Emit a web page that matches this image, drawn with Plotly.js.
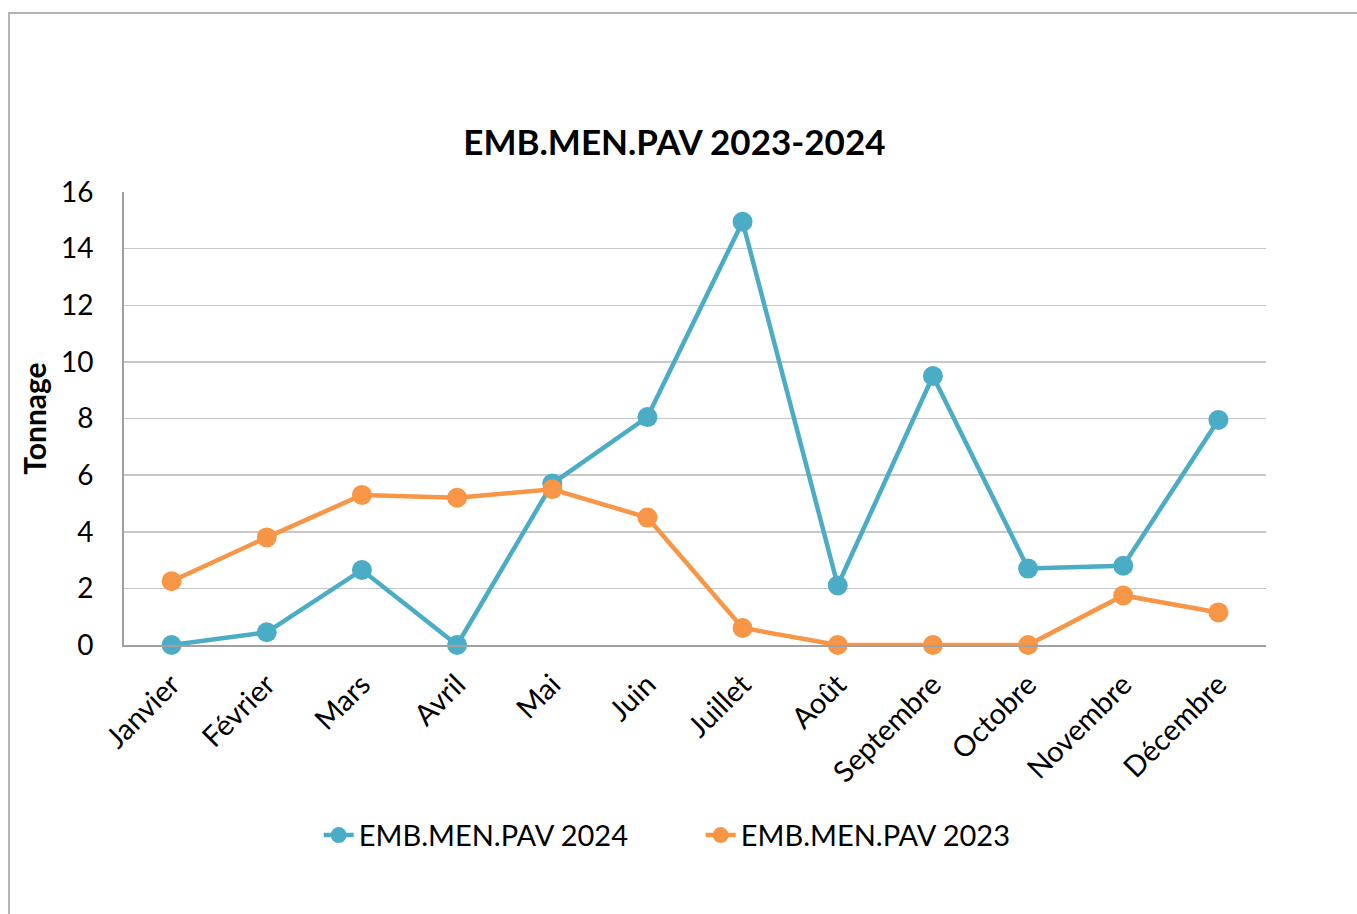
<!DOCTYPE html>
<html>
<head>
<meta charset="utf-8">
<script src="https://cdn.plot.ly/plotly-3.0.1.min.js"></script>
<style>
  html, body { margin: 0; padding: 0; background: #fff; }
  #wrap { position: relative; width: 1357px; height: 914px; }
  #chart { position: absolute; left: 0; top: 0; width: 1357px; height: 914px; }
  #frame {
    position: absolute; left: 8px; top: 12px; width: 1360px; height: 920px;
    border: 2px solid #b4b4b4; pointer-events: none;
  }
</style>
</head>
<body>
<div id="wrap">
  <div id="chart"></div>
  <div id="frame"></div>
</div>
<script>
const months = ["Janvier", "Février", "Mars", "Avril", "Mai", "Juin",
  "Juillet", "Août", "Septembre", "Octobre", "Novembre", "Décembre"];
const values2024 = [0, 0.45, 2.65, 0, 5.7, 8.05, 14.95, 2.1, 9.5, 2.7, 2.8, 7.95];
const values2023 = [2.25, 3.8, 5.3, 5.2, 5.5, 4.5, 0.6, 0, 0, 0, 1.75, 1.15];

const FONT = "Lato, 'Open Sans', sans-serif";

function series(name, y, color) {
  return {
    type: "scatter",
    mode: "lines+markers",
    name: name,
    x: months,
    y: y,
    cliponaxis: false,
    line: { color: color, width: 4.5 },
    marker: { color: color, size: 20 },
  };
}

const traces = [
  series("EMB.MEN.PAV 2024", values2024, "#4bacc6"),
  series("EMB.MEN.PAV 2023", values2023, "#f79646"),
];

const layout = {
  width: 1357,
  height: 914,
  paper_bgcolor: "#fff",
  plot_bgcolor: "#fff",
  margin: { l: 124, r: 91, t: 192, b: 269 },
  font: { family: FONT, color: "#000", size: 28 },
  title: {
    text: "<b>EMB.MEN.PAV 2023-2024</b>",
    font: { family: FONT, size: 35, color: "#000" },
    x: 0.497, xanchor: "center",
    yref: "container", y: 1 - 143 / 914, yanchor: "middle",
  },
  showlegend: true,
  legend: {
    orientation: "h",
    x: 0.505, xanchor: "center",
    y: -0.42, yanchor: "middle",
    font: { family: FONT, size: 29 },
    entrywidth: 337,
    tracegroupgap: 0,
  },
  xaxis: {
    type: "category",
    range: [-0.5, 11.5],
    tickangle: -45,
    tickfont: { family: FONT, size: 29 },
    ticklabelstandoff: 9,
    showgrid: false,
    showline: true,
    linecolor: "#a0a0a0",
    linewidth: 2,
    ticks: "",
    fixedrange: true,
  },
  yaxis: {
    range: [0, 16],
    dtick: 2,
    tickfont: { family: FONT, size: 28 },
    showgrid: true,
    gridcolor: "#c8c8c8",
    gridwidth: 1.5,
    zeroline: false,
    showline: true,
    linecolor: "#a0a0a0",
    linewidth: 2,
    ticks: "",
    ticklabelstandoff: 23,
    title: {
      text: "<b>Tonnage</b>",
      font: { family: FONT, size: 30 },
      standoff: 5,
    },
    fixedrange: true,
  },
};

Plotly.newPlot("chart", traces, layout, { staticPlot: true, displayModeBar: false });
</script>
</body>
</html>
